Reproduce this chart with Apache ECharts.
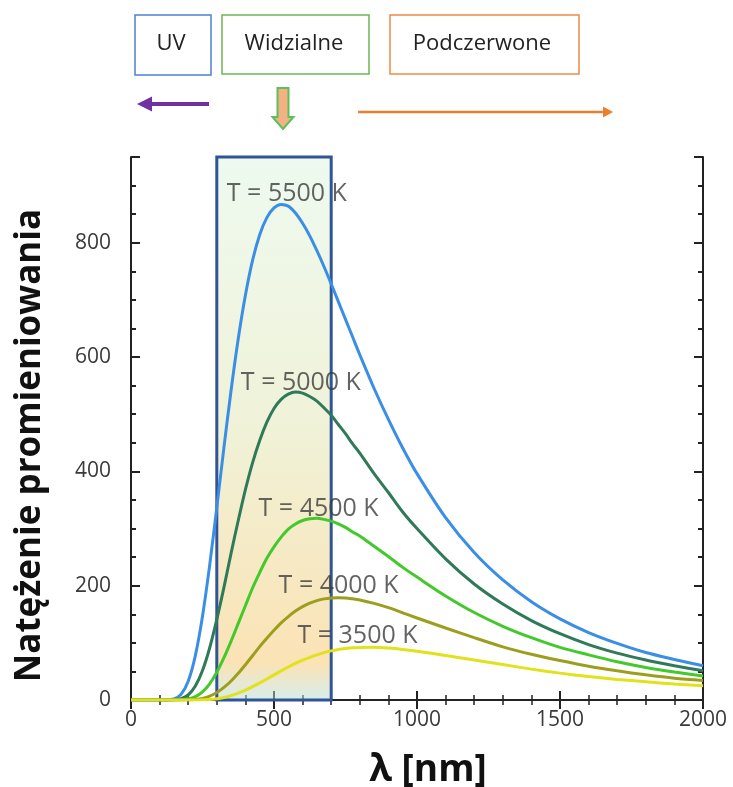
<!DOCTYPE html>
<html>
<head>
	<meta charset="UTF-8">
	<title></title>
	<script type="text/javascript" src="https://cdn.jsdelivr.net/npm/echarts@6/dist/echarts.min.js"></script>
	<style type="text/css">
		html,body{margin:0; padding:0; height:100%; background:#fff;}
		#chart1{width:733px; height:787px;}
	</style>
</head>
<body>
	<div id="chart1"></div>
	<script type="text/javascript">
		// dlugosc fali [nm]
		var wl = [0, 100, 125, 150, 175, 200, 225, 250, 275, 300, 325, 350, 375, 400, 425, 450, 475, 500, 525, 550, 575, 600, 625, 650, 675, 700, 725, 750, 775, 800, 850, 900, 950, 1000, 1100, 1200, 1300, 1400, 1500, 1600, 1700, 1800, 1900, 2000];
		// natezenie
		var t5500 = [0, 0, 0.1, 1.8, 9.8, 32.7, 77.6, 146.5, 235.5, 337, 442, 542, 632, 708, 769, 814, 844, 861, 867, 864, 852, 834, 812, 786, 758, 728, 697, 666, 635, 604, 545, 491, 441, 396, 319, 258, 210, 172, 142, 118, 99, 83, 71, 60];
		var t5000 = [0, 0, 0, 0.3, 2.2, 8.8, 24.3, 51.5, 91, 141, 197, 257, 314, 368, 415, 454, 486, 510, 526, 535, 539, 537, 531, 523, 511, 498, 482, 466, 448, 432, 396, 363, 329, 300, 247, 203, 168, 139, 116, 97, 82, 70, 60, 51];
		var t4500 = [0, 0, 0, 0, 0.3, 1.8, 5.9, 14.3, 28.4, 48.5, 74, 103, 134, 165, 196, 223, 248, 268, 285, 299, 308, 314, 317, 318, 316, 313, 308, 302, 294, 287, 269, 251, 232, 215, 182, 153, 129, 109, 92, 79, 67, 57, 49, 42];
		var t4000 = [0, 0, 0, 0, 0, 0.2, 1, 2.9, 6.7, 13, 22, 33.3, 46.8, 61.8, 77.4, 93.4, 108, 122, 135, 146, 155.6, 163.4, 169.4, 173.9, 176.9, 178.5, 179, 178.6, 177, 175, 169, 161.5, 152.5, 143.5, 126, 109, 93, 80, 69, 59, 51, 44, 38, 34];
		var t3500 = [0, 0, 0, 0, 0, 0, 0.05, 0.4, 1, 2.3, 4.5, 7.7, 11.9, 17.1, 23.3, 29.9, 36.8, 44, 51, 57.7, 64, 69.7, 74.7, 79, 82.8, 85.9, 88.3, 90, 91.3, 92, 92.2, 90.8, 88.4, 85.2, 78, 70, 62, 54, 47, 41, 36, 32, 28, 25];

		var names = ['T = 5500 K', 'T = 5000 K', 'T = 4500 K', 'T = 4000 K', 'T = 3500 K'];
		var colors = ['#3b8ee6', '#2f7a58', '#43c92c', '#9e9e1e', '#e2e21c'];
		// polozenie podpisow (lambda, natezenie)
		var labelX = [545, 594, 656, 726, 792];
		var labelY = [885, 555, 335, 200, 112];
		// zakres widzialny
		var visFrom = 300, visTo = 700;

		var allSeries = [t5500, t5000, t4500, t4000, t3500];

		let myChart = echarts.init(document.getElementById('chart1'));

		var series = [];
		allSeries.forEach(function(vals, k){
			series.push({
				type: 'line',
				name: names[k],
				smooth: 0.3,
				showSymbol: false,
				z: 2,
				lineStyle: {color: colors[k], width: 3},
				data: wl.map(function(x, i){ return [x, vals[i]]; })
			});
		});
		series.push({
			type: 'scatter',
			symbolSize: 0,
			z: 3,
			label: {
				show: true,
				position: 'inside',
				formatter: function(p){ return p.data[2]; },
				fontFamily: 'Open Sans',
				fontSize: 25,
				color: '#3c3c3c'
			},
			data: names.map(function(n, k){ return [labelX[k], labelY[k], n]; })
		});
		// prostokat - zakres widzialny
		series.push({
			type: 'line',
			data: [],
			z: 5,
			markArea: {
				silent: true,
				itemStyle: {
					color: {
						type: 'linear', x: 0, y: 0, x2: 0, y2: 1,
						colorStops: [
							{offset: 0, color: 'rgba(221,245,225,0.5)'},
							{offset: 0.5, color: 'rgba(225,229,177,0.5)'},
							{offset: 0.93, color: 'rgba(247,199,107,0.5)'},
							{offset: 1, color: 'rgba(170,221,221,0.5)'}
						]
					},
					borderColor: '#2f5597',
					borderWidth: 3
				},
				data: [[{xAxis: visFrom, yAxis: 0}, {xAxis: visTo, yAxis: 950}]]
			}
		});

		var tickCol = '#222';
		function yAx(pos, step, len, lab){
			return {
				type: 'value', position: pos, min: 0, max: 950, interval: step,
				axisLine: {show: step == 200, lineStyle: {color: tickCol, width: 2}},
				axisTick: {show: true, inside: true, length: len, lineStyle: {color: tickCol, width: 2}},
				axisLabel: {
					show: lab, margin: 20, fontFamily: 'Open Sans', fontSize: 21, color: '#3a3a3a',
					formatter: function(v){ return v % 200 === 0 ? String(v) : ''; }
				},
				splitLine: {show: false}
			};
		}
		function xAx(pos, lab){
			return {
				type: 'value', position: pos, min: 0, max: 2000, interval: 500,
				axisLine: {show: true, lineStyle: {color: tickCol, width: 2}},
				axisTick: {show: true, inside: true, length: 9, lineStyle: {color: tickCol, width: 2}},
				minorTick: {show: true, splitNumber: 5, length: 5, lineStyle: {color: tickCol, width: 1.5}},
				axisLabel: {
					show: lab, margin: 10, fontFamily: 'Open Sans', fontSize: 21, color: '#3a3a3a',
					formatter: function(v){ return String(v); }
				},
				splitLine: {show: false}
			};
		}

		var xBottom = xAx('bottom', true);
		xBottom.name = 'λ [nm]';
		xBottom.nameLocation = 'middle';
		xBottom.nameGap = 52;
		xBottom.nameTextStyle = {fontFamily: 'Open Sans', fontWeight: 'bold', fontSize: 37, color: '#111', padding: [0, 0, 0, 22]};

		var yLeft = yAx('left', 200, 9, true);
		yLeft.name = 'Natężenie promieniowania';
		yLeft.nameLocation = 'middle';
		yLeft.nameGap = 83;
		yLeft.nameTextStyle = {fontFamily: 'Open Sans', fontWeight: 'bold', fontSize: 35, color: '#111', padding: [0, 34, 0, 0]};

		// legenda u gory i strzalki
		var graphic = [
			{type: 'rect', shape: {x: 135, y: 15, width: 76, height: 60}, style: {fill: '#fff', stroke: '#4f81d0', lineWidth: 1.5}},
			{type: 'rect', shape: {x: 222, y: 15, width: 147, height: 59}, style: {fill: '#fff', stroke: '#70b550', lineWidth: 1.5}},
			{type: 'rect', shape: {x: 390, y: 15, width: 189, height: 59}, style: {fill: '#fff', stroke: '#ee8a48', lineWidth: 1.5}},
			{type: 'text', x: 171, y: 44, style: {text: 'UV', fontFamily: 'Open Sans', fontSize: 22, fill: '#222', align: 'center', verticalAlign: 'middle'}},
			{type: 'text', x: 294, y: 44, style: {text: 'Widzialne', fontFamily: 'Open Sans', fontSize: 22, fill: '#222', align: 'center', verticalAlign: 'middle'}},
			{type: 'text', x: 482, y: 44, style: {text: 'Podczerwone', fontFamily: 'Open Sans', fontSize: 22, fill: '#222', align: 'center', verticalAlign: 'middle'}},
			{type: 'line', shape: {x1: 209, y1: 104, x2: 149, y2: 104}, style: {stroke: '#7030a0', lineWidth: 4}},
			{type: 'polygon', shape: {points: [[137, 104], [152, 96.5], [152, 111.5]]}, style: {fill: '#7030a0'}},
			{type: 'line', shape: {x1: 358, y1: 112, x2: 604, y2: 112}, style: {stroke: '#ed7d31', lineWidth: 2.5}},
			{type: 'polygon', shape: {points: [[613, 112], [603, 106.5], [603, 117.5]]}, style: {fill: '#ed7d31'}},
			{type: 'polygon', shape: {points: [[277.5, 88], [288.5, 88], [288.5, 117], [293.5, 117], [283, 129], [272.5, 117], [277.5, 117]]},
				style: {fill: '#f4b183', stroke: '#5cc05c', lineWidth: 2}}
		];

		var option = {
			animation: false,
			backgroundColor: '#fff',
			grid: {left: 131, right: 30, top: 157, bottom: 87, containLabel: false, outerBoundsMode: 'none'},
			xAxis: [xBottom, xAx('top', false)],
			yAxis: [yLeft, yAx('left', 50, 5, false), yAx('right', 200, 9, false), yAx('right', 50, 5, false)],
			graphic: graphic,
			series: series
		};
		myChart.setOption(option);
	</script>
</body>
</html>
